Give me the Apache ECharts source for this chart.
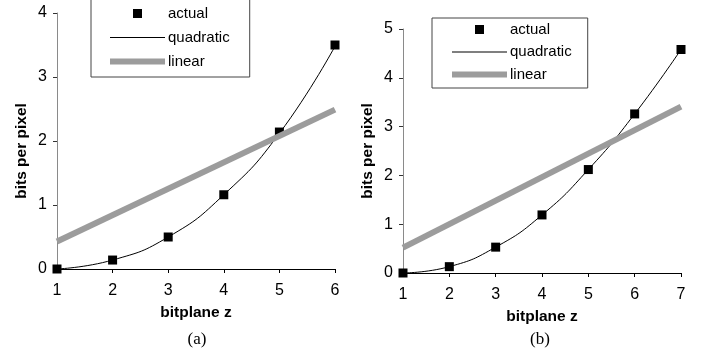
<!DOCTYPE html>
<html>
<head>
<meta charset="utf-8">
<script src="https://cdn.jsdelivr.net/npm/echarts@6/dist/echarts.min.js"></script>
<style>
  html, body { margin: 0; padding: 0; background: #fff; }
  #chart { width: 706px; height: 358px; }
</style>
</head>
<body>
<div id="chart"></div>
<script>
// Panel (a): bit planes 1..6
const bitplanesA = [1, 2, 3, 4, 5, 6];
const actualA = [0.0, 0.14, 0.5, 1.16, 2.14, 3.5];
const quadraticA = [0.0, 0.14, 0.5, 1.16, 2.12, 3.48];
const linearA = [[1, 0.43], [6, 2.49]];

// Panel (b): bit planes 1..7
const bitplanesB = [1, 2, 3, 4, 5, 6, 7];
const actualB = [0.0, 0.13, 0.53, 1.19, 2.12, 3.26, 4.58];
const quadraticB = [0.0, 0.13, 0.53, 1.19, 2.12, 3.26, 4.58];
const linearB = [[1, 0.52], [7, 3.41]];

const yTicksA = [0, 1, 2, 3, 4];
const yTicksB = [0, 1, 2, 3, 4, 5];
const legendNames = ['actual', 'quadratic', 'linear'];
const panelLabels = ['(a)', '(b)'];

const SANS = "'Liberation Sans', Arial, sans-serif";
const SERIF = "'Liberation Serif', 'Times New Roman', serif";
const BAND = '#9c9c9c';

const pair = (xs, ys) => xs.map((x, i) => [x, ys[i]]);

function xAxisFor(gridIndex, xs) {
  return {
    type: 'value', gridIndex,
    min: xs[0], max: xs[xs.length - 1], interval: 1,
    name: 'bitplane z', nameLocation: 'middle', nameGap: 36,
    nameTextStyle: { fontFamily: SANS, fontSize: 15.5, fontWeight: 'bold', color: '#000' },
    axisLine: { lineStyle: { color: '#000', width: 1 } },
    axisTick: { show: true, length: 4, lineStyle: { color: '#000' } },
    axisLabel: { fontFamily: SANS, fontSize: 16, color: '#000', margin: 14 },
    splitLine: { show: false }
  };
}

function yAxisFor(gridIndex, ticks, namePadding) {
  return {
    type: 'value', gridIndex,
    min: ticks[0], max: ticks[ticks.length - 1], interval: 1,
    name: 'bits per pixel', nameLocation: 'middle', nameGap: 27, nameRotate: 90,
    nameTextStyle: { fontFamily: SANS, fontSize: 15.5, fontWeight: 'bold', color: '#000', padding: namePadding },
    axisLine: { show: true, lineStyle: { color: '#8a8a8a', width: 1 } },
    axisTick: { show: true, length: 4, lineStyle: { color: '#333' } },
    axisLabel: { fontFamily: SANS, fontSize: 16, color: '#000', margin: 10 },
    splitLine: { show: false }
  };
}

function seriesFor(idx, xs, actual, quad, linear) {
  return [
    {
      name: 'actual', type: 'scatter', xAxisIndex: idx, yAxisIndex: idx,
      symbol: 'rect', symbolSize: 9, clip: false,
      itemStyle: { color: '#000', opacity: 1 },
      data: pair(xs, actual), z: 3
    },
    {
      name: 'quadratic', type: 'line', xAxisIndex: idx, yAxisIndex: idx,
      smooth: true, showSymbol: false, symbol: 'none',
      lineStyle: { color: '#000', width: 1 },
      itemStyle: { color: '#000' },
      data: pair(xs, quad), z: 4
    },
    {
      name: 'linear', type: 'line', xAxisIndex: idx, yAxisIndex: idx,
      showSymbol: false, symbol: 'none',
      lineStyle: { color: BAND, width: 6 },
      itemStyle: { color: BAND },
      data: linear, z: 5
    }
  ];
}

// Legend icons: a small square for the points, thin and thick strokes for the fits
const legendIcons = {
  actual: { icon: 'path://M0,0L1,0L1,1L0,1Z', itemStyle: { color: '#000', opacity: 1 } },
  quadratic: { icon: 'path://M0,0L55,0L55,1L0,1Z', itemStyle: { color: '#000' } },
  linear: { icon: 'path://M0,0L55,0L55,6L0,6Z', itemStyle: { color: BAND } }
};

function legendFor(left, top, padding, gap) {
  return {
    data: legendNames.map(n => Object.assign({ name: n }, legendIcons[n])),
    orient: 'vertical', left, top,
    itemWidth: 55, itemHeight: 9, itemGap: gap, padding,
    symbolKeepAspect: true,
    borderColor: '#444', borderWidth: 1, backgroundColor: '#fff',
    textStyle: { fontFamily: SANS, fontSize: 15, color: '#000', padding: [0, 0, 0, -2] },
    selectedMode: false
  };
}

const chart = echarts.init(document.getElementById('chart'), null, { renderer: 'canvas' });
chart.setOption({
  animation: false,
  backgroundColor: '#fff',
  grid: [
    { left: 57, right: 371, top: 13, bottom: 89 },
    { left: 403, right: 25, top: 29, bottom: 85 }
  ],
  xAxis: [xAxisFor(0, bitplanesA), xAxisFor(1, bitplanesB)],
  yAxis: [yAxisFor(0, yTicksA, [0, 20, 0, 0]), yAxisFor(1, yTicksB, 0)],
  legend: [
    legendFor(91, -1, [7, 20, 8, 19], 9),
    legendFor(432, 18, [4, 16, 6, 20], 7.5)
  ],
  series: [
    ...seriesFor(0, bitplanesA, actualA, quadraticA, linearA),
    ...seriesFor(1, bitplanesB, actualB, quadraticB, linearB)
  ],
  graphic: [
    { type: 'text', x: 197, y: 340, style: { text: panelLabels[0], font: '17px ' + SERIF, fill: '#000', textAlign: 'center', textVerticalAlign: 'middle' } },
    { type: 'text', x: 540, y: 340, style: { text: panelLabels[1], font: '17px ' + SERIF, fill: '#000', textAlign: 'center', textVerticalAlign: 'middle' } }
  ]
});
</script>
</body>
</html>
